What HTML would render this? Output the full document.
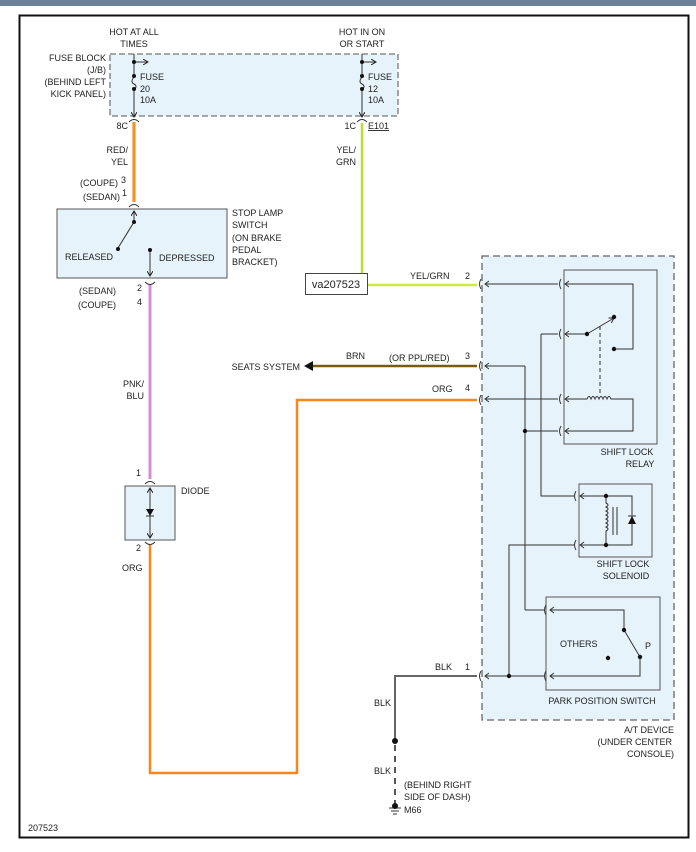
<!DOCTYPE html>
<html><head><meta charset="utf-8"><style>
html,body{margin:0;padding:0;background:#fff;}
svg{display:block;}
text{font-family:"Liberation Sans",sans-serif;font-size:9px;fill:#222;}
</style></head><body>
<svg width="696" height="852" viewBox="0 0 696 852" xmlns="http://www.w3.org/2000/svg">
<rect x="0" y="0" width="696" height="6" fill="#6e7f98"/>
<rect x="19.5" y="15.5" width="669" height="822" fill="#fff" stroke="#111" stroke-width="2"/>
<defs>
<marker id="ah" markerWidth="6" markerHeight="6" refX="5" refY="3" orient="auto"><path d="M0,0 L5,3 L0,6" fill="none" stroke="#222" stroke-width="1"/></marker>
</defs>
<!-- Fuse block -->
<rect x="110" y="54" width="288" height="62" fill="#e6f3fb" stroke="#777" stroke-dasharray="6,3" stroke-width="1.3"/>
<text x="134" y="35" text-anchor="middle">HOT AT ALL</text><text x="134" y="47" text-anchor="middle">TIMES</text>
<text x="362" y="35" text-anchor="middle">HOT IN ON</text><text x="362" y="47" text-anchor="middle">OR START</text>
<text x="106" y="61" text-anchor="end">FUSE BLOCK</text><text x="106" y="73" text-anchor="end">(J/B)</text>
<text x="106" y="85" text-anchor="end">(BEHIND LEFT</text><text x="106" y="97" text-anchor="end">KICK PANEL)</text>
<g stroke="#333" stroke-width="1" fill="none">
<line x1="134" y1="54" x2="134" y2="77"/><path d="M134,77 q-4,5 0,7 q4,2 0,6"/><line x1="134" y1="89" x2="134" y2="117" marker-end="url(#ah)"/>
<line x1="134" y1="62" x2="148" y2="62" marker-end="url(#ah)"/>
<line x1="362" y1="54" x2="362" y2="77"/><path d="M362,77 q-4,5 0,7 q4,2 0,6"/><line x1="362" y1="89" x2="362" y2="117" marker-end="url(#ah)"/>
<line x1="362" y1="62" x2="376" y2="62" marker-end="url(#ah)"/>
<path d="M129,122 q5,-5 10,0"/><path d="M357,122 q5,-5 10,0"/>
</g>
<g fill="#111"><circle cx="134" cy="62" r="2"/><circle cx="134" cy="76" r="2"/><circle cx="134" cy="89" r="2"/>
<circle cx="362" cy="62" r="2"/><circle cx="362" cy="76" r="2"/><circle cx="362" cy="89" r="2"/></g>
<text x="140" y="80">FUSE</text><text x="140" y="92">20</text><text x="140" y="103">10A</text>
<text x="368" y="80">FUSE</text><text x="368" y="92">12</text><text x="368" y="103">10A</text>
<text x="128" y="129" text-anchor="end">8C</text><text x="356" y="129" text-anchor="end">1C</text>
<text x="368" y="129" text-decoration="underline">E101</text>
<!-- red/yel wire -->
<line x1="134" y1="122" x2="134" y2="202" stroke="#f07a1a" stroke-width="3"/>
<line x1="134" y1="122" x2="134" y2="202" stroke="#e8c020" stroke-width="0.8"/>
<text x="128" y="153" text-anchor="end">RED/</text><text x="128" y="165" text-anchor="end">YEL</text>
<text x="118" y="186" text-anchor="end">(COUPE)</text><text x="121" y="183">3</text>
<text x="120" y="200" text-anchor="end">(SEDAN)</text><text x="122" y="196">1</text>
<path d="M129,207 q5,-5 10,0" stroke="#333" fill="none"/>
<!-- stop lamp -->
<rect x="57" y="209" width="170" height="69" fill="#e6f3fb" stroke="#555" stroke-width="1"/>
<g stroke="#333" stroke-width="1" fill="none">
<line x1="134" y1="222" x2="134" y2="211" marker-end="url(#ah)"/><line x1="134" y1="222" x2="118" y2="248"/>
<line x1="150" y1="250" x2="150" y2="276" marker-end="url(#ah)"/>
<path d="M145,282 q5,5 10,0"/>
</g>
<circle cx="134" cy="222" r="2" fill="#111"/><circle cx="118" cy="249" r="2" fill="#111"/><circle cx="150" cy="250" r="2" fill="#111"/>
<text x="65" y="260">RELEASED</text><text x="159" y="261">DEPRESSED</text>
<text x="232" y="216">STOP LAMP</text><text x="232" y="228">SWITCH</text><text x="232" y="241">(ON BRAKE</text><text x="232" y="253">PEDAL</text><text x="232" y="265">BRACKET)</text>
<text x="116" y="294" text-anchor="end">(SEDAN)</text><text x="137" y="291">2</text>
<text x="116" y="308" text-anchor="end">(COUPE)</text><text x="137" y="305">4</text>
<!-- pink wire -->
<line x1="150" y1="285" x2="150" y2="479" stroke="#d38fd6" stroke-width="3"/>
<text x="144" y="387" text-anchor="end">PNK/</text><text x="144" y="399" text-anchor="end">BLU</text>
<text x="136" y="476">1</text><text x="181" y="494">DIODE</text>
<path d="M145,484 q5,-5 10,0" stroke="#333" fill="none"/>
<rect x="125" y="486" width="50" height="54" fill="#e6f3fb" stroke="#555"/>
<g stroke="#333" fill="none"><line x1="150" y1="498" x2="150" y2="488" marker-end="url(#ah)"/><line x1="150" y1="498" x2="150" y2="538" marker-end="url(#ah)"/>
<line x1="146" y1="516" x2="154" y2="516"/><path d="M145,542 q5,5 10,0"/></g>
<path d="M146,509 L154,509 L150,516 Z" fill="#111"/>
<text x="136" y="551">2</text><text x="122" y="571">ORG</text>
<!-- orange wire -->
<path d="M150,545 L150,773 L297,773 L297,400 L477,400" fill="none" stroke="#f8861a" stroke-width="2.5"/>
<!-- green wire -->
<line x1="362" y1="123" x2="362" y2="274" stroke="#b8e030" stroke-width="2.5"/>
<line x1="367" y1="285" x2="477" y2="285" stroke="#d0ec3a" stroke-width="2.5"/>
<text x="356" y="153" text-anchor="end">YEL/</text><text x="356" y="165" text-anchor="end">GRN</text>
<rect x="305.5" y="273.5" width="62" height="21" fill="#fff" stroke="#444"/>
<text x="336" y="288" text-anchor="middle" style="font-size:11px">va207523</text>
<text x="410" y="279">YEL/GRN</text><text x="465" y="279">2</text>
<!-- brn -->
<line x1="312" y1="366" x2="477" y2="366" stroke="#7a5c10" stroke-width="2.5"/>
<path d="M304,366 L313,361 L313,371 Z" fill="#111"/>
<text x="300" y="370" text-anchor="end">SEATS SYSTEM</text>
<text x="346" y="359">BRN</text><text x="389" y="361">(OR PPL/RED)</text><text x="465" y="359">3</text>
<text x="432" y="392">ORG</text><text x="465" y="391">4</text>
<!-- AT device -->
<rect x="482" y="256" width="192" height="464" fill="#e6f3fb" stroke="#666" stroke-dasharray="7,4" stroke-width="1.3"/>
<rect x="564" y="270" width="93" height="174" fill="#e6f3fb" stroke="#555"/>
<rect x="579" y="484" width="73" height="73" fill="#e6f3fb" stroke="#555"/>
<rect x="546" y="597" width="114" height="93" fill="#e6f3fb" stroke="#555"/>
<g stroke="#333" stroke-width="1" fill="none">
<!-- outer connectors -->
<path d="M481,279 q-3,5 0,10"/><path d="M481,361 q-3,5 0,10"/><path d="M481,395 q-3,5 0,10"/><path d="M481,671 q-3,5 0,10"/>
<path d="M489,281 L485,284 L489,287"/><path d="M489,363 L485,366 L489,369"/><path d="M489,396 L485,399 L489,402"/><path d="M489,673 L485,676 L489,679"/>
<line x1="485" y1="284" x2="558" y2="284"/><line x1="485" y1="366" x2="525" y2="366"/><line x1="525" y1="366" x2="525" y2="610"/>
<line x1="485" y1="399" x2="558" y2="399"/><line x1="485" y1="676" x2="544" y2="676"/>
<line x1="525" y1="431" x2="558" y2="431"/>
<path d="M541,334 L558,334 M541,334 L541,496 L575,496"/>
<path d="M509,676 L509,545 L575,545"/>
<line x1="525" y1="610" x2="544" y2="610"/>
<!-- inner relay connectors -->
<path d="M561,279 q-3,5 0,10"/><path d="M561,329 q-3,5 0,10"/><path d="M561,394 q-3,5 0,10"/><path d="M561,426 q-3,5 0,10"/>
<path d="M569,281 L565,284 L569,287"/><path d="M569,331 L565,334 L569,337"/><path d="M569,396 L565,399 L569,402"/><path d="M569,428 L565,431 L569,434"/>
<path d="M565,284 L633,284 L633,349 L614,349"/>
<path d="M565,334 L587,334"/><line x1="587" y1="334" x2="614" y2="318" marker-end="url(#ah)"/>
<line x1="600" y1="326" x2="600" y2="393" stroke-dasharray="4,3"/>
<path d="M565,399 L587,399 q2,-5 4,0 q2,-5 4,0 q2,-5 4,0 q2,-5 4,0 q2,-5 4,0 q2,-5 4,0 L633,399 L633,431 L565,431"/>
<!-- solenoid -->
<path d="M576,491 q-3,5 0,10"/><path d="M576,540 q-3,5 0,10"/>
<path d="M584,493 L580,496 L584,499"/><path d="M584,542 L580,545 L584,548"/>
<path d="M580,496 L632,496 L632,545 L580,545"/>
<path d="M606,496 L606,503 q4,2 0,4 q4,2 0,4 q4,2 0,4 q4,2 0,4 q4,2 0,4 q4,2 0,4 q4,2 0,4 L606,545"/>
<line x1="613" y1="507" x2="613" y2="535"/><line x1="617" y1="507" x2="617" y2="535"/>
<line x1="628" y1="516" x2="636" y2="516"/>
<!-- park -->
<path d="M546,605 q-3,5 0,10"/><path d="M546,671 q-3,5 0,10"/>
<path d="M554,607 L550,610 L554,613"/><path d="M554,673 L550,676 L554,679"/>
<path d="M550,610 L624,610 L624,630"/><line x1="624" y1="630" x2="640" y2="657"/>
<path d="M640,657 L640,676 L550,676"/>
<!-- blk -->
<path d="M477,676 L395,676 L395,740" stroke="#666" stroke-width="2"/>
<line x1="395" y1="745" x2="395" y2="805" stroke="#555" stroke-width="2" stroke-dasharray="6,5"/>
<line x1="389" y1="808" x2="401" y2="808"/><line x1="391" y1="811" x2="399" y2="811"/><line x1="393" y1="814" x2="397" y2="814"/>
</g>
<path d="M628,524 L636,524 L632,516 Z" fill="#111"/>
<g fill="#111">
<circle cx="587" cy="334" r="2.2"/><circle cx="614" cy="317" r="2.2"/><circle cx="614" cy="349" r="2.2"/>
<circle cx="525" cy="431" r="2.2"/><circle cx="606" cy="496" r="2.2"/><circle cx="606" cy="545" r="2.2"/>
<circle cx="624" cy="630" r="2.2"/><circle cx="640" cy="657" r="2.2"/><circle cx="608" cy="658" r="2.2"/>
<circle cx="509" cy="676" r="2.2"/><circle cx="395" cy="741" r="3"/><circle cx="395" cy="806" r="3"/>
</g>
<text x="627" y="455" text-anchor="middle">SHIFT LOCK</text><text x="640" y="467" text-anchor="middle">RELAY</text>
<text x="623" y="567" text-anchor="middle">SHIFT LOCK</text><text x="626" y="579" text-anchor="middle">SOLENOID</text>
<text x="560" y="647">OTHERS</text><text x="645" y="649">P</text>
<text x="602" y="704" text-anchor="middle">PARK POSITION SWITCH</text>
<text x="674" y="733" text-anchor="end">A/T DEVICE</text><text x="672" y="745" text-anchor="end">(UNDER CENTER</text><text x="674" y="757" text-anchor="end">CONSOLE)</text>
<text x="435" y="670">BLK</text><text x="465" y="670">1</text>
<text x="391" y="706" text-anchor="end">BLK</text><text x="391" y="774" text-anchor="end">BLK</text>
<text x="404" y="788">(BEHIND RIGHT</text><text x="404" y="800">SIDE OF DASH)</text><text x="404" y="813">M66</text>
<text x="28" y="831">207523</text>
</svg>
</body></html>
